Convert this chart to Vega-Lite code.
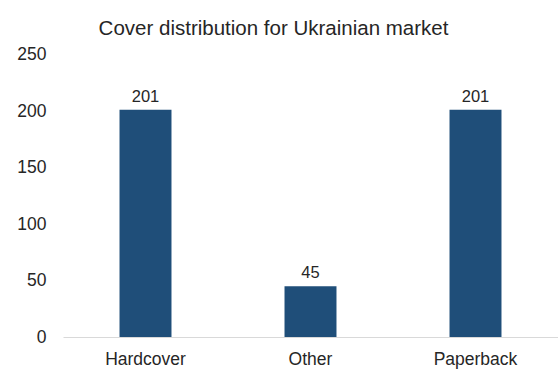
{
  "$schema": "https://vega.github.io/schema/vega-lite/v6.json",
  "autosize": {"type": "none"},
  "width": 495,
  "height": 282.5,
  "padding": {"left": 63, "top": 54.5, "right": 0, "bottom": 34},
  "background": "white",
  "title": {
    "text": "Cover distribution for Ukrainian market",
    "font": "Liberation Sans",
    "fontSize": 20.5,
    "fontWeight": "normal",
    "color": "#262626",
    "anchor": "middle",
    "dx": -37,
    "offset": 6
  },
  "data": {
    "values": [
      {"cover": "Hardcover", "count": 201},
      {"cover": "Other", "count": 45},
      {"cover": "Paperback", "count": 201}
    ]
  },
  "encoding": {
    "x": {
      "field": "cover",
      "type": "nominal",
      "sort": null,
      "scale": {"paddingInner": 0.685, "paddingOuter": 0.3425},
      "axis": {
        "title": null,
        "labelAngle": 0,
        "ticks": false,
        "domain": true,
        "domainColor": "#d9d9d9",
        "domainWidth": 1,
        "labelFont": "Liberation Sans",
        "labelFontSize": 17.5,
        "labelColor": "#262626",
        "labelPadding": 13,
        "grid": false
      }
    },
    "y": {
      "field": "count",
      "type": "quantitative",
      "scale": {"domain": [0, 250], "nice": false},
      "axis": {
        "title": null,
        "values": [0, 50, 100, 150, 200, 250],
        "ticks": false,
        "domain": false,
        "grid": false,
        "labelFont": "Liberation Sans",
        "labelFontSize": 17.5,
        "labelColor": "#262626",
        "labelPadding": 17
      }
    }
  },
  "layer": [
    {"mark": {"type": "bar", "color": "#1f4e79"}},
    {
      "mark": {
        "type": "text",
        "baseline": "alphabetic",
        "dy": -8,
        "font": "Liberation Sans",
        "fontSize": 16.5,
        "color": "#262626"
      },
      "encoding": {"text": {"field": "count", "type": "quantitative"}}
    }
  ],
  "config": {"view": {"stroke": null}}
}
